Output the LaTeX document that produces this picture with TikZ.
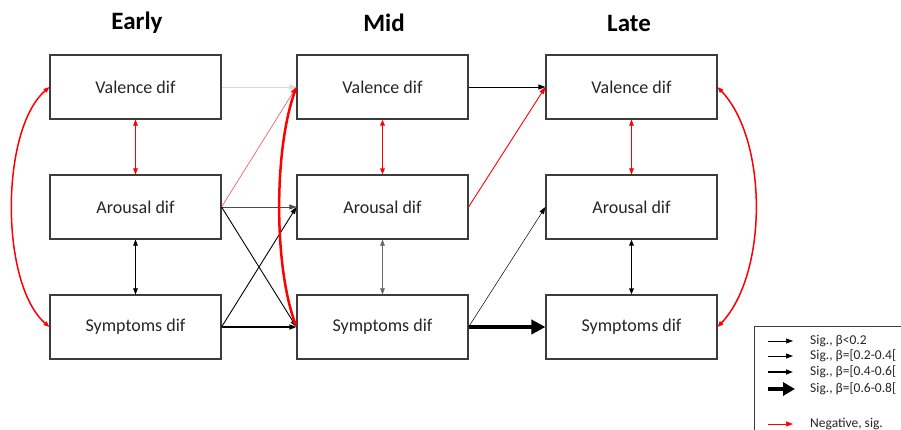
\documentclass[tikz,border=0pt]{standalone}
\usepackage{fontspec}
\setmainfont{Carlito}
\usetikzlibrary{arrows.meta}
\definecolor{boxline}{HTML}{3C3C3C}
\definecolor{txt}{HTML}{262626}
\definecolor{negred}{HTML}{FF0000}
\tikzset{
  box/.style={draw=boxline, line width=1.1pt, minimum width=171pt, minimum height=64pt, inner sep=0pt, text=txt, font=\fontsize{18}{20}\selectfont},
  title/.style={font=\bfseries\fontsize{25}{27}\selectfont, text=black},
  tip/.style={-{Triangle[length=7pt,width=5pt]}},
  dtip/.style={{Triangle[length=6pt,width=4.5pt]}-{Triangle[length=6pt,width=4.5pt]}},
  wA/.style={line width=0.5pt},
  wB/.style={line width=0.9pt},
  wC/.style={line width=1.5pt},
  wD/.style={line width=4pt},
  legtext/.style={anchor=west, font=\fontsize{13.5}{15}\selectfont, text=txt, inner sep=0pt}
}
\begin{document}
\begin{tikzpicture}[x=1pt,y=-1pt]
\useasboundingbox (0,0) rectangle (901,430);
\clip (0,0) rectangle (901,430);
\fill[white] (0,0) rectangle (901,430);
% titles
\node[title] (tE) at (137,23) {Early};
\node[title] (tM) at (384,23) {Mid};
\node[title] (tL) at (629,23) {Late};
% boxes
\node[box] (ev) at (135.5,87) {Valence dif};
\node[box] (ea) at (135.5,207) {Arousal dif};
\node[box] (es) at (135.5,327) {Symptoms dif};
\node[box] (mv) at (382.5,87) {Valence dif};
\node[box] (ma) at (382.5,207) {Arousal dif};
\node[box] (ms) at (382.5,327) {Symptoms dif};
\node[box] (lv) at (631.5,87) {Valence dif};
\node[box] (la) at (631.5,207) {Arousal dif};
\node[box] (ls) at (631.5,327) {Symptoms dif};
% vertical links
\draw[dtip, wA, negred] (ev) -- (ea);
\draw[dtip, wA, black] (ea) -- (es);
\draw[dtip, wC, negred] (mv) -- (ma);
\draw[dtip, wA, black!60] (ma) -- (ms);
\draw[dtip, wA, negred] (lv) -- (la);
\draw[dtip, wC, black] (la) -- (ls);
% early -> mid
\draw[tip, wA, black!15] (ev.east) -- (mv.west);
\draw[tip, wA, negred!80] (ea.east) -- (mv.west);
\draw[tip, wA, black!70] (ea.east) -- (ma.west);
\draw[tip, wB, black] (ea.east) -- (ms.west);
\draw[tip, wB, black] (es.east) -- (ma.west);
\draw[tip, wC, black] (es.east) -- (ms.west);
% mid -> late
\draw[tip, wB, black] (mv.east) -- (lv.west);
\draw[tip, wB, negred] (ma.east) -- (lv.west);
\draw[tip, wA, black] (ms.east) -- (la.west);
\draw[-{Triangle[length=14pt,width=14pt]}, wD, black] (ms.east) -- (ls.west);
% curved correlations
\draw[dtip, wC, negred] (ev.west) .. controls (0,130) and (0,284) .. (es.west);
\draw[dtip, line width=2.5pt, negred] (mv.west) .. controls (274,150) and (274,264) .. (ms.west);
\draw[dtip, wC, negred] (lv.east) .. controls (768,140) and (768,274) .. (ls.east);
% legend
\draw[boxline, line width=1pt] (754,326) rectangle (930,460);
\coordinate (a1s) at (768,341); \coordinate (a1e) at (793,341);
\coordinate (a2s) at (768,356); \coordinate (a2e) at (793,356);
\coordinate (a3s) at (768,372); \coordinate (a3e) at (793,372);
\coordinate (a4s) at (768,389); \coordinate (a4e) at (795,389);
\coordinate (a5s) at (768,424); \coordinate (a5e) at (793,424);
\draw[tip, wA, black] (a1s) -- (a1e);
\draw[tip, wB, black] (a2s) -- (a2e);
\draw[tip, wC, black] (a3s) -- (a3e);
\draw[-{Triangle[length=12pt,width=13pt]}, wD, black] (a4s) -- (a4e);
\draw[tip, wA, negred] (a5s) -- (a5e);
\node[legtext] (l1) at (810,341) {Sig., β<0.2};
\node[legtext] (l2) at (810,356) {Sig., β=[0.2-0.4[};
\node[legtext] (l3) at (810,372) {Sig., β=[0.4-0.6[};
\node[legtext] (l4) at (810,389) {Sig., β=[0.6-0.8[};
\node[legtext] (l5) at (810,424) {Negative, sig.};
\end{tikzpicture}
\end{document}
